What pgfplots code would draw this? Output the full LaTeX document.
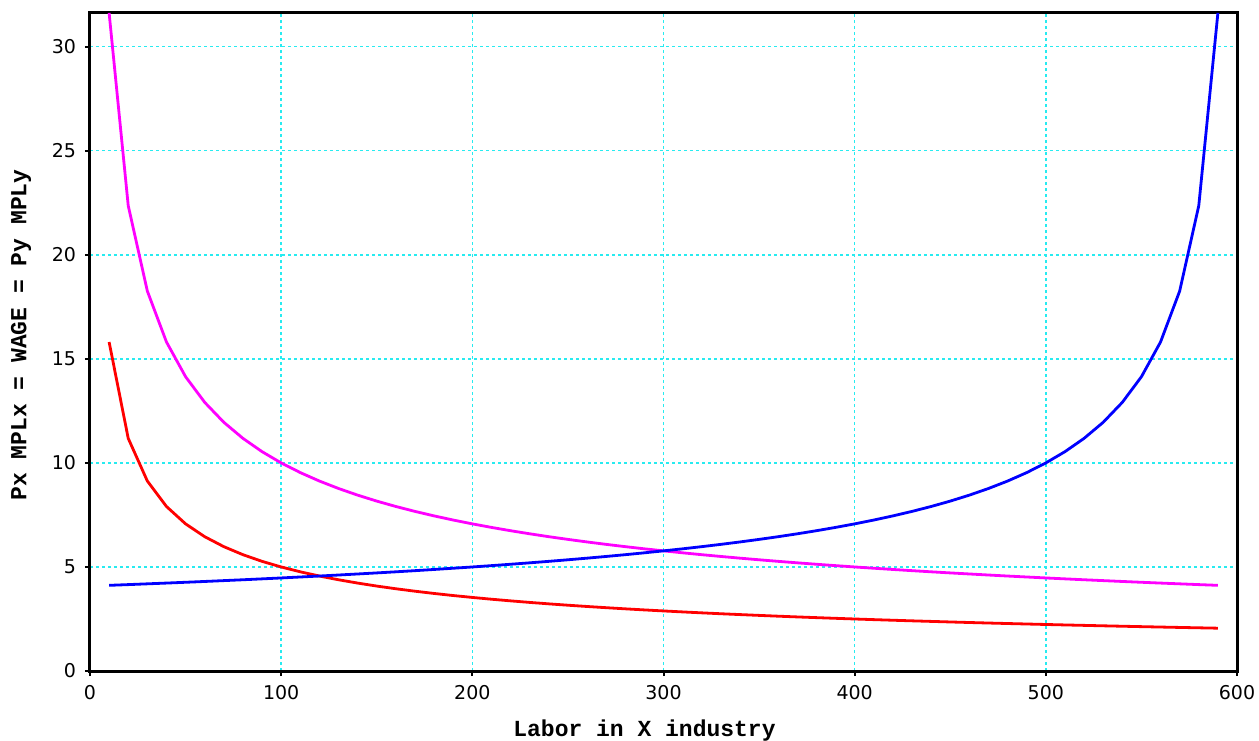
\documentclass[border=0pt]{standalone}
\usepackage{pgfplots}
\pgfplotsset{compat=1.18}
\usepackage{fontspec}
\setmainfont{DejaVu Sans}
\newfontfamily\labfont{Liberation Mono}
\definecolor{cmag}{RGB}{255,0,255}
\definecolor{cred}{RGB}{255,0,0}
\definecolor{cblue}{RGB}{0,0,255}
\definecolor{cgrid}{RGB}{40,235,240}
\begin{document}
\begin{tikzpicture}
\begin{axis}[
  name=ax,
  scale only axis, width=573.5pt, height=329pt,
  xmin=0, xmax=600, ymin=0, ymax=31.62,
  xtick={0,100,...,600}, ytick={0,5,...,30},
  xtick pos=bottom, ytick pos=left,
  tick align=outside, major tick length=2.5pt,
  tick style={black, line width=1pt},
  axis line style={black, line width=1.5pt},
  grid=major,
  major grid style={draw=cgrid, dash pattern=on 1.6pt off 1.4pt, line width=0.7pt},
  /pgf/number format/assume math mode=true,
  ticklabel style={font=\fontsize{9.5}{11}\selectfont},
  xticklabel style={yshift=-1pt},
  yticklabel style={xshift=-1pt},
  every axis x label/.style={at={(axis description cs:0.5,0)}, xshift=-9.5pt, yshift=-30pt, anchor=center},
  every axis y label/.style={at={(axis description cs:0,0.5)}, xshift=-34.5pt, yshift=3.5pt, anchor=center, rotate=90},
  xlabel={\labfont\bfseries Labor in X industry},
  ylabel={\labfont\bfseries Px MPLx = WAGE = Py MPLy},
  label style={font=\fontsize{11.5}{13}\selectfont},
  clip=true,
]
\addplot[cmag, line width=1.4pt] coordinates {
(10,31.623)(20,22.361)(30,18.257)(40,15.811)(50,14.142)(60,12.910)(70,11.952)(80,11.180)(90,10.541)(100,10.000)
(110,9.535)(120,9.129)(130,8.771)(140,8.452)(150,8.165)(160,7.906)(170,7.670)(180,7.454)(190,7.255)(200,7.071)
(210,6.901)(220,6.742)(230,6.594)(240,6.455)(250,6.325)(260,6.202)(270,6.086)(280,5.976)(290,5.872)(300,5.774)
(310,5.680)(320,5.590)(330,5.505)(340,5.423)(350,5.345)(360,5.270)(370,5.199)(380,5.130)(390,5.064)(400,5.000)
(410,4.939)(420,4.880)(430,4.822)(440,4.767)(450,4.714)(460,4.663)(470,4.613)(480,4.564)(490,4.518)(500,4.472)
(510,4.428)(520,4.385)(530,4.344)(540,4.303)(550,4.264)(560,4.226)(570,4.189)(580,4.152)(590,4.117)
};
\addplot[cred, line width=1.4pt] coordinates {
(10,15.811)(20,11.180)(30,9.129)(40,7.906)(50,7.071)(60,6.455)(70,5.976)(80,5.590)(90,5.270)(100,5.000)
(110,4.767)(120,4.564)(130,4.385)(140,4.226)(150,4.082)(160,3.953)(170,3.835)(180,3.727)(190,3.627)(200,3.536)
(210,3.450)(220,3.371)(230,3.297)(240,3.227)(250,3.162)(260,3.101)(270,3.043)(280,2.988)(290,2.936)(300,2.887)
(310,2.840)(320,2.795)(330,2.752)(340,2.712)(350,2.673)(360,2.635)(370,2.599)(380,2.565)(390,2.532)(400,2.500)
(410,2.469)(420,2.440)(430,2.411)(440,2.384)(450,2.357)(460,2.331)(470,2.306)(480,2.282)(490,2.259)(500,2.236)
(510,2.214)(520,2.193)(530,2.172)(540,2.152)(550,2.132)(560,2.113)(570,2.094)(580,2.076)(590,2.058)
};
\addplot[cblue, line width=1.4pt] coordinates {
(10,4.117)(20,4.152)(30,4.189)(40,4.226)(50,4.264)(60,4.303)(70,4.344)(80,4.385)(90,4.428)(100,4.472)
(110,4.518)(120,4.564)(130,4.613)(140,4.663)(150,4.714)(160,4.767)(170,4.822)(180,4.880)(190,4.939)(200,5.000)
(210,5.064)(220,5.130)(230,5.199)(240,5.270)(250,5.345)(260,5.423)(270,5.505)(280,5.590)(290,5.680)(300,5.774)
(310,5.872)(320,5.976)(330,6.086)(340,6.202)(350,6.325)(360,6.455)(370,6.594)(380,6.742)(390,6.901)(400,7.071)
(410,7.255)(420,7.454)(430,7.670)(440,7.906)(450,8.165)(460,8.452)(470,8.771)(480,9.129)(490,9.535)(500,10.000)
(510,10.541)(520,11.180)(530,11.952)(540,12.910)(550,14.142)(560,15.811)(570,18.257)(580,22.361)(590,31.623)
};
\end{axis}
\pgfresetboundingbox
\path[use as bounding box] ([shift={(-45pt,-34.5pt)}]ax.south west) rectangle ([shift={(11pt,6.5pt)}]ax.north east);
\end{tikzpicture}
\end{document}
